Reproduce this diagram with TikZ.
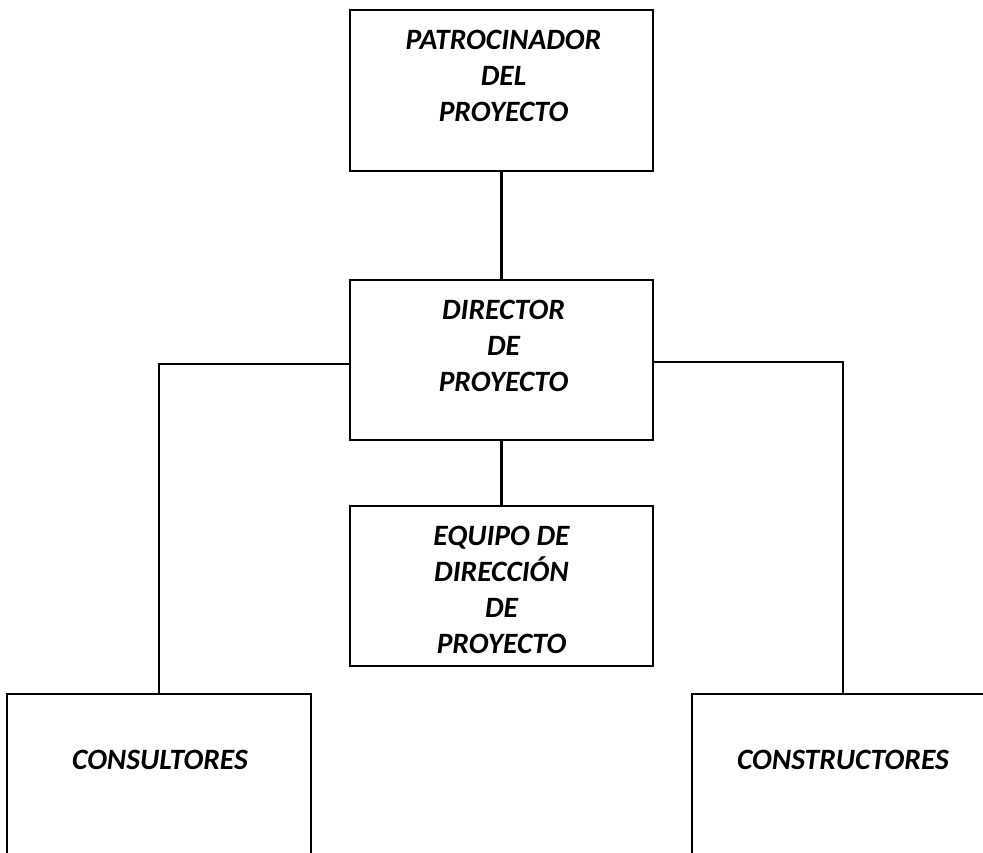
\documentclass[tikz,border=0pt]{standalone}
\usepackage{fontspec}
\setmainfont{Carlito}
\usetikzlibrary{calc}

\begin{document}
\begin{tikzpicture}[x=0.02cm, y=-0.02cm]% organigrama
    \tikzstyle{box} = [draw, line width=1.4pt, rectangle, minimum width=6.06cm, minimum height=3.2cm, inner sep=0]
    \tikzstyle{cargo} = [font=\fontsize{16.8}{20.5}\selectfont\bfseries\itshape, align=center, inner sep=0]
    \tikzstyle{link} = [line width=1.4pt]
    \clip (0, 0) rectangle (983, 852);
    \node[box, minimum height=3.22cm] (patrocinador) at (501.5, 90.5) {};
    \node[box] (director) at (501.5, 360) {};
    \node[box] (equipo) at (501.5, 586) {};
    \node[box, minimum width=6.08cm, minimum height=3.32cm] (consultores) at (159, 777) {};
    \node[box, minimum width=6.04cm, minimum height=3.32cm] (constructores) at (843, 777) {};
    \node[cargo] (t patrocinador) at ($(patrocinador) + (2, -15)$) {PATROCINADOR\\DEL\\PROYECTO};
    \node[cargo] (t director) at ($(director) + (2, -14)$) {DIRECTOR\\DE\\PROYECTO};
    \node[cargo] (t equipo) at ($(equipo) + (0, 4)$) {EQUIPO DE\\DIRECCIÓN\\DE\\PROYECTO};
    \node[cargo] (t consultores) at ($(consultores) + (1, -17)$) {CONSULTORES};
    \node[cargo] (t constructores) at ($(constructores) + (0, -17)$) {CONSTRUCTORES};
    \draw[link] (patrocinador.south) -- (director.north);
    \draw[link] (director.south) -- (equipo.north);
    \draw[link] ($(director.west) + (0, 4)$) -| (consultores.north);
    \draw[link] ($(director.east) + (0, 2)$) -| (constructores.north);
\end{tikzpicture}
\end{document}
